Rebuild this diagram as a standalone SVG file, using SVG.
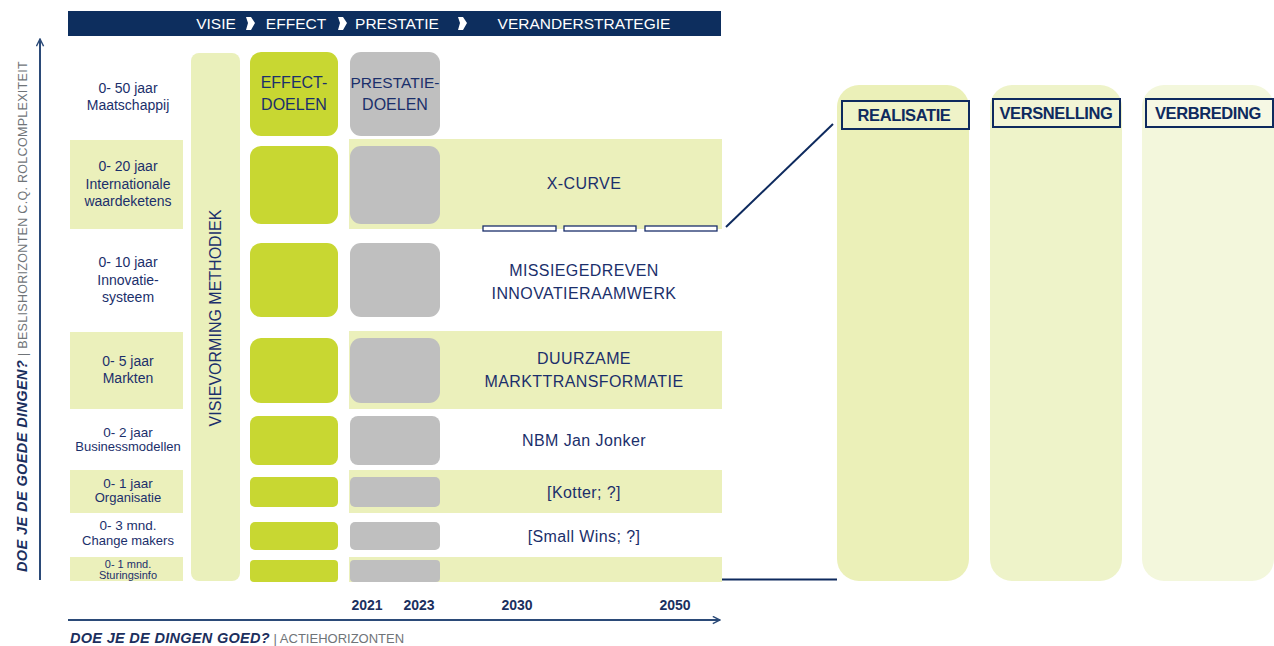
<svg xmlns="http://www.w3.org/2000/svg" width="1274" height="646" viewBox="0 0 1274 646">
<defs>
<style>
.t{font-family:"Liberation Sans",Arial,sans-serif;fill:#1b2f6b;text-anchor:middle}
.lbl{font-size:14px}
.rt{font-size:16px;letter-spacing:0.4px}
.hd{font-family:"Liberation Sans",Arial,sans-serif;fill:#ffffff;font-size:15.5px;text-anchor:middle}
.band{fill:#ebf0bb}
.eff{fill:#c8d732}
.pre{fill:#bfbfbf}
.yr{font-family:"Liberation Sans",Arial,sans-serif;font-weight:bold;font-size:14px;fill:#1b2f5e;text-anchor:middle}
.chev{fill:#ffffff}
.slot{fill:#ffffff;stroke:#1b2f6b;stroke-width:1.3}
.tag{stroke:#0e2a5e;stroke-width:2}
.tagt{font-family:"Liberation Sans",Arial,sans-serif;font-weight:bold;font-size:16.5px;fill:#0e2a5e;text-anchor:middle;letter-spacing:-0.4px}
.ln{stroke:#0e2a5e;stroke-width:2;fill:none}
</style>
<marker id="ah" viewBox="0 0 10 10" refX="9" refY="5" markerWidth="9" markerHeight="9" markerUnits="userSpaceOnUse" orient="auto">
<path d="M1,1 L9,5 L1,9" fill="none" stroke="#2b4a78" stroke-width="1.6"/>
</marker>
</defs>
<rect width="1274" height="646" fill="#ffffff"/>

<g id="header">
<rect x="68" y="11" width="653" height="25" fill="#0d2e5e"/>
<text class="hd" x="216" y="29">VISIE</text>
<text class="hd" x="296" y="29">EFFECT</text>
<text class="hd" x="397" y="29">PRESTATIE</text>
<text class="hd" x="584" y="29">VERANDERSTRATEGIE</text>
<path class="chev" d="M246,17 L251,17 L255,23 L251,30 L246,30 L248,23 Z"/>
<path class="chev" d="M338,17 L343,17 L347,23 L343,30 L338,30 L340,23 Z"/>
<path class="chev" d="M458,17 L463,17 L467,23 L463,30 L458,30 L460,23 Z"/>
</g>

<g id="bands">
<rect class="band" x="70" y="140" width="113" height="89"/>
<rect class="band" x="349" y="139" width="373" height="90"/>
<rect class="band" x="70" y="332" width="113" height="77"/>
<rect class="band" x="349" y="331" width="373" height="78"/>
<rect class="band" x="70" y="470" width="113" height="43"/>
<rect class="band" x="349" y="470" width="373" height="43"/>
<rect class="band" x="70" y="557" width="113" height="24"/>
<rect class="band" x="349" y="557" width="373" height="25"/>
</g>

<g id="row-labels">
<text class="t lbl" x="128" y="93">0- 50 jaar</text>
<text class="t lbl" x="128" y="110">Maatschappij</text>
<text class="t lbl" x="128" y="171">0- 20 jaar</text>
<text class="t lbl" x="128" y="189">Internationale</text>
<text class="t lbl" x="128" y="206">waardeketens</text>
<text class="t lbl" x="128" y="267">0- 10 jaar</text>
<text class="t lbl" x="128" y="285">Innovatie-</text>
<text class="t lbl" x="128" y="302">systeem</text>
<text class="t lbl" x="128" y="366">0- 5 jaar</text>
<text class="t lbl" x="128" y="383">Markten</text>
<text class="t" style="font-size:13.5px" x="128" y="437">0- 2 jaar</text>
<text class="t" style="font-size:13px" x="128" y="451">Businessmodellen</text>
<text class="t" style="font-size:13.5px" x="128" y="488">0- 1 jaar</text>
<text class="t" style="font-size:13px" x="128" y="502">Organisatie</text>
<text class="t" style="font-size:13.5px" x="128" y="530">0- 3 mnd.</text>
<text class="t" style="font-size:13px" x="128" y="545">Change makers</text>
<text class="t" style="font-size:11px" x="128" y="568">0- 1 mnd.</text>
<text class="t" style="font-size:11px" x="128" y="579">Sturingsinfo</text>
</g>

<g id="visievorming">
<rect x="191" y="53" width="49" height="528" rx="8" fill="#eaf0bb"/>
<text class="t" style="font-size:16px" transform="translate(221,318) rotate(-90)">VISIEVORMING METHODIEK</text>
</g>

<g id="effect-doelen">
<rect class="eff" x="250" y="52" width="88" height="84" rx="11"/>
<text class="t" style="font-size:16px" x="294" y="88">EFFECT-</text>
<text class="t" style="font-size:16px" x="294" y="110">DOELEN</text>
<rect class="eff" x="250" y="146" width="88" height="78" rx="11"/>
<rect class="eff" x="250" y="243" width="88" height="74" rx="11"/>
<rect class="eff" x="250" y="338" width="88" height="65" rx="11"/>
<rect class="eff" x="250" y="416" width="88" height="49" rx="8"/>
<rect class="eff" x="250" y="477" width="88" height="30" rx="5"/>
<rect class="eff" x="250" y="522" width="88" height="28" rx="5"/>
<rect class="eff" x="250" y="560" width="88" height="22" rx="4"/>
</g>

<g id="prestatie-doelen">
<rect class="pre" x="350" y="52" width="90" height="84" rx="11"/>
<text class="t" style="font-size:15.5px" x="395" y="88">PRESTATIE-</text>
<text class="t" style="font-size:16px" x="395" y="110">DOELEN</text>
<rect class="pre" x="350" y="146" width="90" height="78" rx="11"/>
<rect class="pre" x="350" y="243" width="90" height="74" rx="11"/>
<rect class="pre" x="350" y="338" width="90" height="65" rx="11"/>
<rect class="pre" x="350" y="416" width="90" height="49" rx="8"/>
<rect class="pre" x="350" y="477" width="90" height="30" rx="5"/>
<rect class="pre" x="350" y="522" width="90" height="28" rx="5"/>
<rect class="pre" x="350" y="560" width="90" height="22" rx="4"/>
</g>

<g id="strategies">
<text class="t rt" x="584" y="189">X-CURVE</text>
<rect class="slot" x="483" y="226" width="73" height="5"/>
<rect class="slot" x="564" y="226" width="72" height="5"/>
<rect class="slot" x="645" y="226" width="72" height="5"/>
<text class="t rt" x="584" y="276">MISSIEGEDREVEN</text>
<text class="t rt" x="584" y="299">INNOVATIERAAMWERK</text>
<text class="t rt" x="584" y="364">DUURZAME</text>
<text class="t rt" x="584" y="387">MARKTTRANSFORMATIE</text>
<text class="t rt" x="584" y="446">NBM Jan Jonker</text>
<text class="t rt" x="584" y="498">[Kotter; ?]</text>
<text class="t rt" x="584" y="542">[Small Wins; ?]</text>
</g>

<g id="axes">
<line x1="40" y1="580" x2="40" y2="39" stroke="#2b4a78" stroke-width="2" marker-end="url(#ah)"/>
<text style="font-family:'Liberation Sans',Arial,sans-serif;font-size:12.5px;letter-spacing:0.3px" transform="translate(27,572) rotate(-90)"><tspan font-weight="bold" font-style="italic" fill="#1b2f5e" style="font-size:14.5px;letter-spacing:0.4px">DOE JE DE GOEDE DINGEN?</tspan><tspan fill="#6f7478"> | BESLISHORIZONTEN C.Q. ROLCOMPLEXITEIT</tspan></text>
<line x1="68" y1="620" x2="720" y2="620" stroke="#2b4a78" stroke-width="2" marker-end="url(#ah)"/>
<text style="font-family:'Liberation Sans',Arial,sans-serif;font-size:13px" x="70" y="643"><tspan font-weight="bold" font-style="italic" fill="#1b2f5e" style="font-size:14.5px;letter-spacing:0.3px">DOE JE DE DINGEN GOED?</tspan><tspan fill="#6f7478"> | ACTIEHORIZONTEN</tspan></text>
<text class="yr" x="367" y="610">2021</text>
<text class="yr" x="419" y="610">2023</text>
<text class="yr" x="517" y="610">2030</text>
<text class="yr" x="675" y="610">2050</text>
</g>

<g id="connectors">
<line class="ln" x1="726" y1="227" x2="833" y2="124"/>
<line class="ln" x1="722" y1="579.5" x2="837" y2="579.5"/>
</g>

<g id="realisatie">
<rect x="837" y="85" width="132" height="496" rx="22" fill="#ebf0b8"/>
<rect class="tag" x="842" y="101" width="127" height="28" fill="#eff3c8"/>
<text class="tagt" x="904" y="120.5">REALISATIE</text>
</g>
<g id="versnelling">
<rect x="990" y="85" width="132" height="496" rx="22" fill="#eef3c9"/>
<rect class="tag" x="993" y="99" width="127" height="28" fill="#f2f5d6"/>
<text class="tagt" x="1056" y="118.5">VERSNELLING</text>
</g>
<g id="verbreding">
<rect x="1142" y="85" width="132" height="496" rx="22" fill="#f3f7dc"/>
<rect class="tag" x="1146" y="99" width="127" height="28" fill="#f6f8e4"/>
<text class="tagt" x="1208" y="118.5">VERBREDING</text>
</g>
</svg>
